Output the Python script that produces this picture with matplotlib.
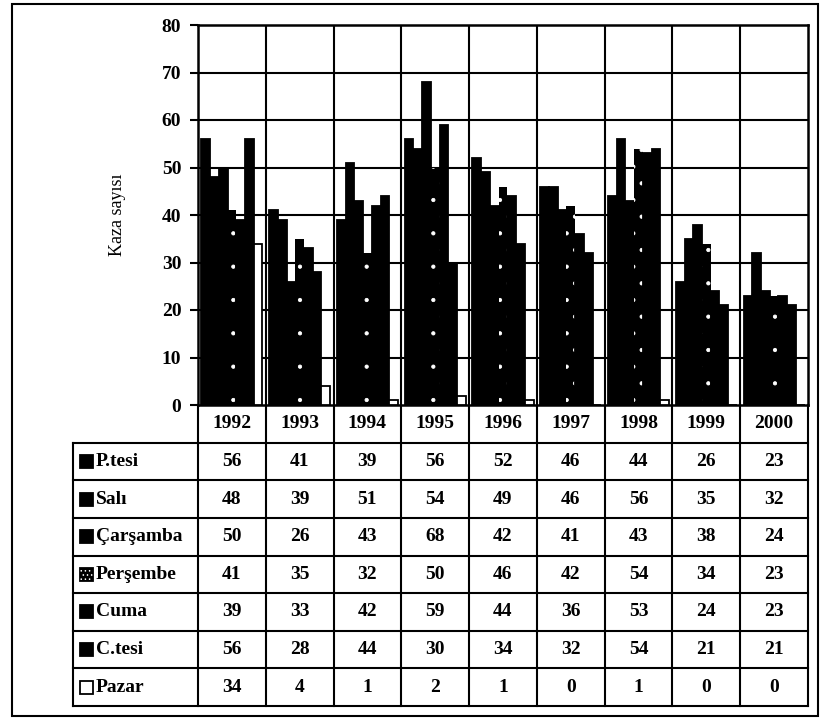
import numpy as np
import matplotlib.pyplot as plt
from matplotlib.patches import Rectangle

plt.rcParams['font.family'] = ['Liberation Serif', 'DejaVu Serif']
plt.rcParams['hatch.linewidth'] = 0.6

years = ['1992', '1993', '1994', '1995', '1996', '1997', '1998', '1999', '2000']
days = ['P.tesi', 'Salı', 'Çarşamba', 'Perşembe', 'Cuma', 'C.tesi', 'Pazar']

ptesi = [56, 41, 39, 56, 52, 46, 44, 26, 23]
sali = [48, 39, 51, 54, 49, 46, 56, 35, 32]
carsamba = [50, 26, 43, 68, 42, 41, 43, 38, 24]
persembe = [41, 35, 32, 50, 46, 42, 54, 34, 23]
cuma = [39, 33, 42, 59, 44, 36, 53, 24, 23]
ctesi = [56, 28, 44, 30, 34, 32, 54, 21, 21]
pazar = [34, 4, 1, 2, 1, 0, 1, 0, 0]

series = [ptesi, sali, carsamba, persembe, cuma, ctesi, pazar]
faces = ['black', 'black', 'black', 'black', 'black', 'black', 'white']
hatches = [None, None, None, '.', None, None, None]

W, H = 829, 726
fig = plt.figure(figsize=(W / 100, H / 100), dpi=100)

# chart part
ax = fig.add_axes([198 / W, 1 - 405 / H, 610 / W, 380 / H])
x = np.arange(len(years))
n = len(series)
group = 0.9
bw = group / n
for k, vals in enumerate(series):
    pos = x - group / 2 + bw * (k + 0.5)
    if hatches[k]:
        ax.bar(pos, vals, bw, color=faces[k], edgecolor='white', hatch=hatches[k],
               linewidth=0, zorder=3)
    else:
        ax.bar(pos, vals, bw, color=faces[k], edgecolor='black', linewidth=1.3, zorder=3)

ax.set_xlim(-0.5, len(years) - 0.5)
ax.set_ylim(0, 80)
ax.set_yticks(range(0, 81, 10))
ax.set_yticklabels([str(v) for v in range(0, 81, 10)], fontsize=14, fontweight='bold')
ax.tick_params(axis='y', direction='out', length=6, width=1.5, pad=6)
ax.set_xticks([])
ax.grid(False)
for v in range(10, 80, 10):
    ax.axhline(v, color='black', lw=1.5, zorder=1)
for b in np.arange(0.5, len(years) - 1, 1.0):
    ax.axvline(b, color='black', lw=1.5, zorder=1)
for s in ax.spines.values():
    s.set_linewidth(1.8)
ax.set_ylabel('Kaza sayısı', fontsize=13, labelpad=26)

# data table under the chart
lab_w = 125 / 67.8
tab = fig.add_axes([73 / W, 1 - 706 / H, 735 / W, 301 / H])
x0 = -0.5 - lab_w
tab.set_xlim(x0, len(years) - 0.5)
tab.set_ylim(n + 1, 0)
tab.axis('off')
for r in range(1, n + 2):
    tab.plot([x0, len(years) - 0.5], [r, r], color='black', lw=1.5, clip_on=False)
for c in range(len(years) + 1):
    tab.plot([c - 0.5, c - 0.5], [0, n + 1], color='black', lw=1.5, clip_on=False)
tab.plot([x0, x0], [1, n + 1], color='black', lw=1.5, clip_on=False)

for i, yr in enumerate(years):
    tab.text(i, 0.5, yr, ha='center', va='center', fontsize=14, fontweight='bold')
sq_w, sq_h = 13 / 67.8, 13 / 37.6
for k, (day, vals) in enumerate(zip(days, series)):
    row = k + 1.5
    tab.add_patch(Rectangle((x0 + 0.1, row - sq_h / 2), sq_w, sq_h,
                            facecolor=faces[k], edgecolor='black', lw=1.3,
                            clip_on=False))
    if hatches[k]:
        # denser dots so the pattern shows on the small key square
        tab.add_patch(Rectangle((x0 + 0.1, row - sq_h / 2), sq_w, sq_h,
                                facecolor='none', edgecolor='white', hatch='....',
                                lw=0, clip_on=False))
    tab.text(x0 + 0.34, row, day, ha='left', va='center', fontsize=14, fontweight='bold')
    for i, v in enumerate(vals):
        tab.text(i, row, str(v), ha='center', va='center', fontsize=14, fontweight='bold')

# outer frame
fig.patches.append(Rectangle((12 / W, 1 - 716 / H), 806 / W, 712 / H,
                             transform=fig.transFigure, fill=False,
                             edgecolor='black', lw=1.5))

fig.savefig('out.png', dpi=100, facecolor='white')
